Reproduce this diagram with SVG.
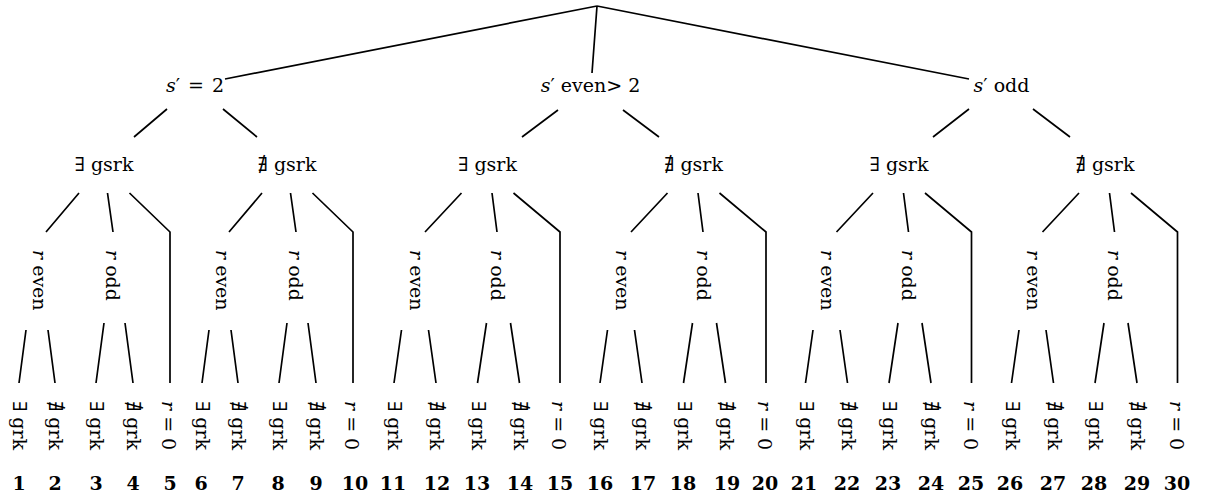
<svg xmlns="http://www.w3.org/2000/svg" width="1206" height="498" viewBox="0 0 1206 498">
<style>
.t{font-family:"DejaVu Serif",serif;font-size:19px;fill:#000}
.c{text-anchor:middle}
.i{font-style:italic}
.n{font-family:"DejaVu Serif",serif;font-weight:bold;font-size:19px;text-anchor:middle;fill:#000}
.e{stroke:#000;stroke-width:1.7;fill:none;stroke-linejoin:miter}
</style>
<rect width="1206" height="498" fill="#fff"/>
<g id="connectors" class="e">
<path d="M597,6L225,79M597,6L592,73M597,6L969,79"/>
<path d="M167,109L134,137M223,109L257,137"/>
<path d="M558,110L522,137M623,110L659,137"/>
<path d="M969,109L933,137M1033,109L1070,137"/>
<path d="M79,193L46,232M107.5,193L113,232M129.5,193L170,232L170,383M26,330L19,383M48,330L55,383M104,323L96,383M125,323L133,383"/>
<path d="M262,193L229,232M290.5,193L296,232M312.5,193L353,232L353,383M209,330L202,383M231,330L238,383M287,323L279,383M308,323L316,383"/>
<path d="M461.5,193L425,232M492,193L497,232M513.5,193L560,232L560,383M401.5,330L394,383M428.5,330L436,383M486.5,323L477.5,383M510.5,323L519.5,383"/>
<path d="M667.5,193L631,232M698,193L703,232M719.5,193L766,232L766,383M607.5,330L600,383M634.5,330L642,383M692.5,323L683.5,383M716.5,323L725.5,383"/>
<path d="M873,193L836.5,232M903.5,193L908.5,232M925,193L971.5,232L971.5,383M813,330L805.5,383M840,330L847.5,383M898,323L889,383M922,323L931,383"/>
<path d="M1079,193L1042.5,232M1109.5,193L1114.5,232M1131,193L1177.5,232L1177.5,383M1019,330L1011.5,383M1046,330L1053.5,383M1104,323L1095,383M1128,323L1137,383"/>
</g>
<g id="n-s2"><text class="t c" x="195" y="92" word-spacing="2"><tspan class="i">s</tspan>′ = 2</text></g>
<g id="n-seven"><text class="t c" x="590.5" y="92"><tspan class="i">s</tspan>′ even&gt; 2</text></g>
<g id="n-sodd"><text class="t c" x="1001.5" y="92"><tspan class="i">s</tspan>′ odd</text></g>
<g id="n-g1"><text class="t c" x="104" y="171">∃ gsrk</text></g>
<g id="n-g2"><text class="t c" x="287" y="171">∄ gsrk</text></g>
<g id="n-g3"><text class="t c" x="487.5" y="171">∃ gsrk</text></g>
<g id="n-g4"><text class="t c" x="693.5" y="171">∄ gsrk</text></g>
<g id="n-g5"><text class="t c" x="899" y="171">∃ gsrk</text></g>
<g id="n-g6"><text class="t c" x="1105" y="171">∄ gsrk</text></g>
<g id="n-g1-reven"><text class="t" transform="translate(33,250) rotate(90)"><tspan class="i">r</tspan> even</text></g>
<g id="n-g1-rodd"><text class="t" transform="translate(106,250) rotate(90)"><tspan class="i">r</tspan> odd</text></g>
<g id="n-g2-reven"><text class="t" transform="translate(216,250) rotate(90)"><tspan class="i">r</tspan> even</text></g>
<g id="n-g2-rodd"><text class="t" transform="translate(289,250) rotate(90)"><tspan class="i">r</tspan> odd</text></g>
<g id="n-g3-reven"><text class="t" transform="translate(409.5,250) rotate(90)"><tspan class="i">r</tspan> even</text></g>
<g id="n-g3-rodd"><text class="t" transform="translate(490.5,250) rotate(90)"><tspan class="i">r</tspan> odd</text></g>
<g id="n-g4-reven"><text class="t" transform="translate(615.5,250) rotate(90)"><tspan class="i">r</tspan> even</text></g>
<g id="n-g4-rodd"><text class="t" transform="translate(696.5,250) rotate(90)"><tspan class="i">r</tspan> odd</text></g>
<g id="n-g5-reven"><text class="t" transform="translate(821,250) rotate(90)"><tspan class="i">r</tspan> even</text></g>
<g id="n-g5-rodd"><text class="t" transform="translate(902,250) rotate(90)"><tspan class="i">r</tspan> odd</text></g>
<g id="n-g6-reven"><text class="t" transform="translate(1027,250) rotate(90)"><tspan class="i">r</tspan> even</text></g>
<g id="n-g6-rodd"><text class="t" transform="translate(1108,250) rotate(90)"><tspan class="i">r</tspan> odd</text></g>
<g id="leaf-1"><text class="t" transform="translate(13,401) rotate(90)">∃ grk</text><text class="n" x="19" y="490">1</text></g>
<g id="leaf-2"><text class="t" transform="translate(49,401) rotate(90)">∄ grk</text><text class="n" x="55" y="490">2</text></g>
<g id="leaf-3"><text class="t" transform="translate(90,401) rotate(90)">∃ grk</text><text class="n" x="96" y="490">3</text></g>
<g id="leaf-4"><text class="t" transform="translate(127,401) rotate(90)">∄ grk</text><text class="n" x="133" y="490">4</text></g>
<g id="leaf-5"><text class="t" transform="translate(162,401) rotate(90)"><tspan class="i">r</tspan> = 0</text><text class="n" x="170" y="490">5</text></g>
<g id="leaf-6"><text class="t" transform="translate(196,401) rotate(90)">∃ grk</text><text class="n" x="201" y="490">6</text></g>
<g id="leaf-7"><text class="t" transform="translate(232,401) rotate(90)">∄ grk</text><text class="n" x="238" y="490">7</text></g>
<g id="leaf-8"><text class="t" transform="translate(273,401) rotate(90)">∃ grk</text><text class="n" x="278" y="490">8</text></g>
<g id="leaf-9"><text class="t" transform="translate(310,401) rotate(90)">∄ grk</text><text class="n" x="316" y="490">9</text></g>
<g id="leaf-10"><text class="t" transform="translate(345,401) rotate(90)"><tspan class="i">r</tspan> = 0</text><text class="n" x="355" y="490">10</text></g>
<g id="leaf-11"><text class="t" transform="translate(388,401) rotate(90)">∃ grk</text><text class="n" x="393" y="490">11</text></g>
<g id="leaf-12"><text class="t" transform="translate(430,401) rotate(90)">∄ grk</text><text class="n" x="437" y="490">12</text></g>
<g id="leaf-13"><text class="t" transform="translate(471.5,401) rotate(90)">∃ grk</text><text class="n" x="477" y="490">13</text></g>
<g id="leaf-14"><text class="t" transform="translate(513.5,401) rotate(90)">∄ grk</text><text class="n" x="520" y="490">14</text></g>
<g id="leaf-15"><text class="t" transform="translate(552,401) rotate(90)"><tspan class="i">r</tspan> = 0</text><text class="n" x="560" y="490">15</text></g>
<g id="leaf-16"><text class="t" transform="translate(594,401) rotate(90)">∃ grk</text><text class="n" x="600" y="490">16</text></g>
<g id="leaf-17"><text class="t" transform="translate(636,401) rotate(90)">∄ grk</text><text class="n" x="643" y="490">17</text></g>
<g id="leaf-18"><text class="t" transform="translate(677.5,401) rotate(90)">∃ grk</text><text class="n" x="683" y="490">18</text></g>
<g id="leaf-19"><text class="t" transform="translate(719.5,401) rotate(90)">∄ grk</text><text class="n" x="727" y="490">19</text></g>
<g id="leaf-20"><text class="t" transform="translate(758,401) rotate(90)"><tspan class="i">r</tspan> = 0</text><text class="n" x="765" y="490">20</text></g>
<g id="leaf-21"><text class="t" transform="translate(799.5,401) rotate(90)">∃ grk</text><text class="n" x="804" y="490">21</text></g>
<g id="leaf-22"><text class="t" transform="translate(841.5,401) rotate(90)">∄ grk</text><text class="n" x="847" y="490">22</text></g>
<g id="leaf-23"><text class="t" transform="translate(883,401) rotate(90)">∃ grk</text><text class="n" x="888" y="490">23</text></g>
<g id="leaf-24"><text class="t" transform="translate(925,401) rotate(90)">∄ grk</text><text class="n" x="931" y="490">24</text></g>
<g id="leaf-25"><text class="t" transform="translate(963.5,401) rotate(90)"><tspan class="i">r</tspan> = 0</text><text class="n" x="971" y="490">25</text></g>
<g id="leaf-26"><text class="t" transform="translate(1005.5,401) rotate(90)">∃ grk</text><text class="n" x="1010" y="490">26</text></g>
<g id="leaf-27"><text class="t" transform="translate(1047.5,401) rotate(90)">∄ grk</text><text class="n" x="1053" y="490">27</text></g>
<g id="leaf-28"><text class="t" transform="translate(1089,401) rotate(90)">∃ grk</text><text class="n" x="1094" y="490">28</text></g>
<g id="leaf-29"><text class="t" transform="translate(1131,401) rotate(90)">∄ grk</text><text class="n" x="1137" y="490">29</text></g>
<g id="leaf-30"><text class="t" transform="translate(1169.5,401) rotate(90)"><tspan class="i">r</tspan> = 0</text><text class="n" x="1177" y="490">30</text></g>
</svg>
